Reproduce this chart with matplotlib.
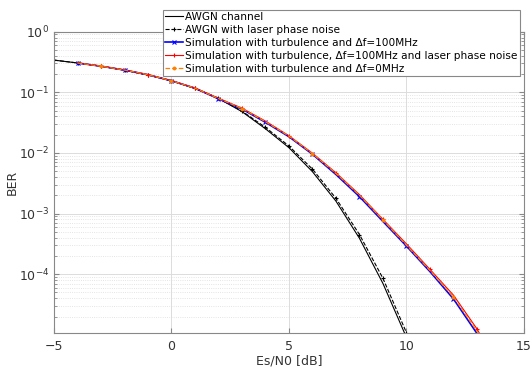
import matplotlib
matplotlib.use("Agg")
import matplotlib.pyplot as plt
from matplotlib.ticker import LogLocator, NullFormatter

# Es/N0 axis [dB]
snr_awgn = [-5, -4, -3, -2, -1, 0, 1, 2, 3, 4, 5, 6, 7, 8, 9, 10]
snr_sim = [-4, -3, -2, -1, 0, 1, 2, 3, 4, 5, 6, 7, 8, 9, 10, 11, 12, 13, 14]

# BER values
ber_awgn = [0.34, 0.305, 0.27, 0.232, 0.193, 0.155, 0.116, 0.079, 0.048,
            0.025, 0.0122, 4.9e-3, 1.6e-3, 3.9e-4, 7.0e-5, 9.0e-6]
ber_awgn_pn = [0.34, 0.305, 0.27, 0.232, 0.193, 0.155, 0.116, 0.08, 0.049,
               0.0264, 0.013, 5.4e-3, 1.78e-3, 4.5e-4, 8.5e-5, 1.08e-5]
ber_turb_100 = [0.305, 0.27, 0.233, 0.195, 0.155, 0.117, 0.078, 0.053, 0.032,
                0.0185, 9.5e-3, 4.4e-3, 1.9e-3, 7.4e-4, 2.9e-4, 1.1e-4,
                3.9e-5, 1.05e-5, 2.0e-6]
ber_turb_100_pn = [0.305, 0.27, 0.234, 0.196, 0.156, 0.118, 0.08, 0.0548, 0.0335,
                   0.0192, 9.9e-3, 4.7e-3, 2.05e-3, 8.0e-4, 3.15e-4, 1.2e-4,
                   4.5e-5, 1.25e-5, 2.5e-6]
ber_turb_0 = [0.305, 0.27, 0.233, 0.195, 0.155, 0.117, 0.079, 0.054, 0.0327,
              0.019, 9.7e-3, 4.6e-3, 2.0e-3, 7.8e-4, 3.0e-4, 1.15e-4,
              4.2e-5, 1.15e-5, 2.2e-6]

labels = ['AWGN channel',
          'AWGN with laser phase noise',
          'Simulation with turbulence and \u0394f=100MHz',
          'Simulation with turbulence, \u0394f=100MHz and laser phase noise',
          'Simulation with turbulence and \u0394f=0MHz']

fig = plt.figure(figsize=(5.31, 3.67), dpi=100)
ax = fig.add_axes([0.1017, 0.0926, 0.8851, 0.821])

ax.semilogy(snr_awgn, ber_awgn, '-', color='black', lw=0.8, label=labels[0])
ax.semilogy(snr_awgn, ber_awgn_pn, '--+', color='black', lw=0.8, ms=3, mew=0.8,
            label=labels[1])
ax.semilogy(snr_sim, ber_turb_100, '-x', color='blue', lw=1.2, ms=2.5, mew=0.8,
            markevery=2, label=labels[2])
ax.semilogy(snr_sim, ber_turb_100_pn, '-+', color='red', lw=0.8, ms=3, mew=0.8,
            markevery=(1, 2), label=labels[3])
ax.semilogy(snr_sim, ber_turb_0, '--o', color='#ff8000', lw=0.9, ms=2.2, mew=0.6,
            markevery=(1, 3), label=labels[4])

ax.set_xlim(-5, 15)
ax.set_ylim(1.07e-5, 1)
ax.set_xticks([-5, 0, 5, 10, 15])
ax.yaxis.set_major_locator(LogLocator(base=10, numticks=10))
ax.yaxis.set_minor_locator(LogLocator(base=10, subs=range(2, 10), numticks=50))
ax.yaxis.set_minor_formatter(NullFormatter())

ax.grid(True, which='major', color='#dcdcdc', lw=0.7)
ax.grid(True, which='minor', axis='y', color='#dcdcdc', lw=0.6, ls=':')
ax.set_axisbelow(True)

for s in ax.spines.values():
    s.set_color('#888888')
    s.set_linewidth(0.8)
ax.tick_params(which='both', direction='in', top=True, right=True,
               colors='#888888', labelcolor='#333333', labelsize=9)
ax.tick_params(axis='x', pad=5)
ax.tick_params(which='minor', length=2)

ax.set_xlabel('Es/N0 [dB]', fontsize=9, color='#333333', labelpad=1)
ax.set_ylabel('BER', fontsize=9, color='#333333')
ax.yaxis.set_label_coords(-0.075, 0.5)

leg = ax.legend(loc='upper right', bbox_to_anchor=(0.991, 1.072), fontsize=7.6,
                frameon=True, fancybox=False, framealpha=1, edgecolor='#888888',
                borderpad=0.2, labelspacing=0.28, handlelength=1.7,
                handletextpad=0.25, borderaxespad=0)
leg.get_frame().set_linewidth(0.8)

fig.savefig('out.png', dpi=100)
